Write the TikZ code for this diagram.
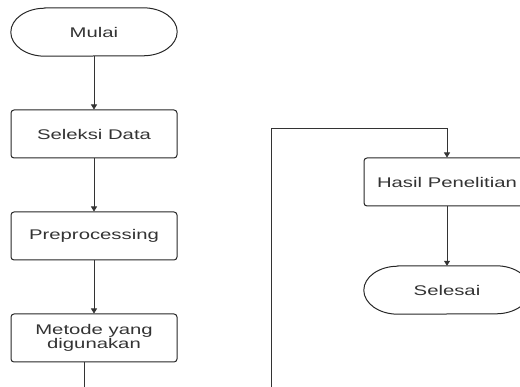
\documentclass[tikz,border=0pt]{standalone}
\usepackage{fontspec}
\setmainfont{Liberation Sans}
\usepackage{graphicx}
\usetikzlibrary{arrows.meta}
\newcommand{\lebar}[1]{\scalebox{1.45}[1]{#1}}

\begin{document}
\begin{tikzpicture}[x=1pt,y=-1pt,
        terminal/.style={minimum width=166pt,minimum height=48pt,inner sep=0pt,
            text=black!80,font=\fontsize{14}{12.5}\selectfont,
            append after command={\pgfextra{\draw[draw=black!85,line width=1pt]
                ([xshift=34pt]\tikzlastnode.north west) -- ([xshift=-34pt]\tikzlastnode.north east)
                arc[start angle=90,end angle=-90,x radius=34pt,y radius=24pt]
                -- ([xshift=34pt]\tikzlastnode.south west)
                arc[start angle=270,end angle=90,x radius=34pt,y radius=24pt] -- cycle;}}},
        proses/.style={draw=black!85,line width=1pt,rounded corners=3pt,
            minimum width=166pt,minimum height=48pt,inner sep=0pt,align=center,
            text=black!80,font=\fontsize{14}{12.5}\selectfont},
        panah/.style={draw=black!80,line width=0.7pt,-{Triangle[length=5pt,width=6pt]}},
        garis/.style={draw=black!80,line width=0.7pt}]
            \useasboundingbox (0,0) rectangle (520,387);
            \clip (0,0) rectangle (520,387);
            \node[terminal] (mulai) at (94,32) {\lebar{Mulai}};
            \node[proses] (seleksi) at (94,134) {\lebar{Seleksi Data}};
            \node[proses] (prepro) at (94,236) {\lebar{Preprocessing}};
            \node[proses] (metode) at (94,338) {\lebar{Metode yang}\\\lebar{digunakan}};
            \node[proses] (hasil) at (447,182) {\lebar{Hasil Penelitian}};
            \node[terminal] (selesai) at (447,290) {\lebar{Selesai}};
            \coordinate (lanjut) at (84,390);
            \coordinate (masuk) at (271,390);
            \draw[panah] (mulai) -- (seleksi);
            \draw[panah] (seleksi) -- (prepro);
            \draw[panah] (prepro) -- (metode);
            \draw[garis] (metode.south -| lanjut) -- (lanjut);
            \draw[panah] (masuk) |- (271,128) -| (hasil.north);
            \draw[panah] (hasil) -- (selesai);
            \end{tikzpicture}
\end{document}
